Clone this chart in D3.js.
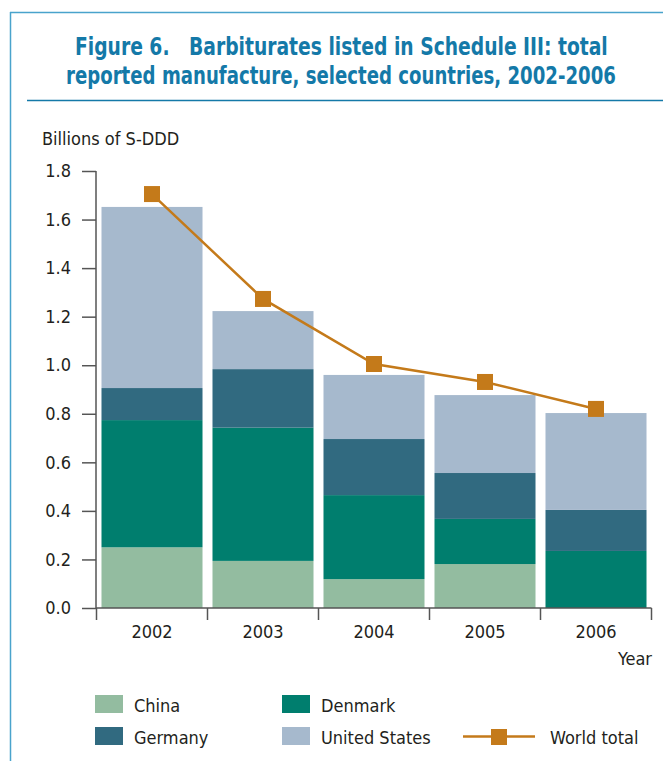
<!DOCTYPE html>
<html>
<head>
<meta charset="utf-8">
<script src="https://cdn.jsdelivr.net/npm/d3@7/dist/d3.min.js"></script>
<style>
  html, body { margin: 0; padding: 0; background: #fff; }
  svg { display: block; }
  text { font-family: "Liberation Sans Narrow", "Arial Narrow", "DejaVu Sans Condensed", "Roboto", sans-serif; }
</style>
</head>
<body>
<svg id="chart" width="663" height="761"></svg>
<script>
// ---- Data ----
const years = ["2002", "2003", "2004", "2005", "2006"];
const china = [0.25, 0.194, 0.119, 0.181, 0];
const denmark = [0.524, 0.549, 0.346, 0.186, 0.235];
const germany = [0.132, 0.241, 0.231, 0.189, 0.169];
const unitedStates = [0.746, 0.239, 0.264, 0.321, 0.399];
const worldTotal = [1.705, 1.273, 1.005, 0.931, 0.82];
const yTicks = [0, 0.2, 0.4, 0.6, 0.8, 1.0, 1.2, 1.4, 1.6, 1.8];
const seriesNames = ["China", "Denmark", "Germany", "United States"];
const seriesColors = ["#93bca0", "#007e6e", "#316a80", "#a6b9cd"];
const worldColor = "#c47a1a";
const titleLines = ["Figure 6.   Barbiturates listed in Schedule III: total",
                    "reported manufacture, selected countries, 2002-2006"];

const svg = d3.select("#chart");
const titleColor = "#1479a8";
const borderColor = "#49a3cc";
const axisColor = "#555";
const textColor = "#231f20";

// Frame
svg.append("line").attr("x1", 10.5).attr("x2", 10.5).attr("y1", 12).attr("y2", 761)
  .attr("stroke", borderColor).attr("stroke-width", 1.5);
svg.append("line").attr("x1", 10).attr("x2", 663).attr("y1", 12.5).attr("y2", 12.5)
  .attr("stroke", borderColor).attr("stroke-width", 1.5);
svg.append("line").attr("x1", 27).attr("x2", 663).attr("y1", 100.5).attr("y2", 100.5)
  .attr("stroke", titleColor).attr("stroke-width", 1.5);

// Title (condensed horizontally to the reference's width)
const titleX = [75, 66], titleW = [533, 550], titleY = [55, 84];
titleLines.forEach((t, i) => {
  const g = svg.append("g");
  const tx = g.append("text").attr("x", 0).attr("y", 0)
    .attr("fill", titleColor).attr("font-weight", "bold").attr("font-size", 24)
    .style("white-space", "pre")
    .text(t);
  const w = tx.node().getComputedTextLength();
  const sx = w > 0 ? titleW[i] / w : 1;
  g.attr("transform", `translate(${titleX[i]},${titleY[i]}) scale(${sx},1)`);
});

// Scales
const x = d3.scaleBand().domain(years).range([96.5, 651.5]).paddingInner(0.09).paddingOuter(0.045);
const y = d3.scaleLinear().domain([0, 1.8]).range([608, 171]);

// Stacked data
const rows = years.map((yr, i) => ({
  year: yr, "China": china[i], "Denmark": denmark[i], "Germany": germany[i], "United States": unitedStates[i]
}));
const stack = d3.stack().keys(seriesNames)(rows);

svg.append("g").selectAll("g").data(stack).join("g")
  .attr("fill", (d, i) => seriesColors[i])
  .selectAll("rect").data(d => d).join("rect")
  .attr("x", d => x(d.data.year))
  .attr("width", x.bandwidth())
  .attr("y", d => y(d[1]))
  .attr("height", d => y(d[0]) - y(d[1]));

// Y axis
const yAxis = d3.axisLeft(y).tickValues(yTicks).tickFormat(d3.format(".1f")).tickSize(14).tickPadding(11);
const yg = svg.append("g").attr("transform", "translate(96,0)").call(yAxis);
yg.select(".domain").attr("stroke", axisColor).attr("stroke-width", 1.5).attr("d", `M0,${y(1.8)}V${y(0)}`);
yg.selectAll(".tick line").attr("stroke", axisColor).attr("stroke-width", 1.5);
yg.selectAll(".tick text").attr("font-size", 18).attr("fill", textColor)
  .style("font-family", '"Liberation Sans Narrow", "Arial Narrow", "DejaVu Sans Condensed", sans-serif');

// X axis: baseline and boundaries between bands
const xr = x.range();
svg.append("line").attr("x1", 96).attr("x2", xr[1]).attr("y1", y(0)).attr("y2", y(0))
  .attr("stroke", axisColor).attr("stroke-width", 1.5);
const bounds = d3.range(years.length + 1).map(i => xr[0] + i * x.step());
svg.append("g").selectAll("line").data(bounds).join("line")
  .attr("x1", d => d).attr("x2", d => d).attr("y1", y(0)).attr("y2", y(0) + 12)
  .attr("stroke", axisColor).attr("stroke-width", 1.5);
svg.append("g").selectAll("text").data(years).join("text")
  .attr("x", d => x(d) + x.bandwidth() / 2).attr("y", 638)
  .attr("text-anchor", "middle").attr("font-size", 18).attr("fill", textColor)
  .text(d => d);

// Axis titles
svg.append("text").attr("x", 652).attr("y", 665).attr("text-anchor", "end")
  .attr("font-size", 18).attr("fill", textColor).text("Year");
svg.append("text").attr("x", 42).attr("y", 145)
  .attr("font-size", 18).attr("fill", textColor).text("Billions of S-DDD");

// World total line
const line = d3.line().x((d, i) => x(years[i]) + x.bandwidth() / 2).y(d => y(d));
svg.append("path").datum(worldTotal).attr("d", line)
  .attr("fill", "none").attr("stroke", worldColor).attr("stroke-width", 2.5);
svg.append("g").selectAll("rect").data(worldTotal).join("rect")
  .attr("x", (d, i) => x(years[i]) + x.bandwidth() / 2 - 8)
  .attr("y", d => y(d) - 8)
  .attr("width", 16).attr("height", 16).attr("fill", worldColor);

// Legend
const legendPos = [[95, 695], [282, 695], [95, 727], [282, 727]];
seriesNames.forEach((name, i) => {
  const [lx, ly] = legendPos[i];
  svg.append("rect").attr("x", lx).attr("y", ly).attr("width", 28).attr("height", 18)
    .attr("fill", seriesColors[i]);
  svg.append("text").attr("x", lx + 39).attr("y", ly + 17)
    .attr("font-size", 18).attr("fill", textColor).text(name);
});
svg.append("line").attr("x1", 463).attr("x2", 535).attr("y1", 736.5).attr("y2", 736.5)
  .attr("stroke", worldColor).attr("stroke-width", 2.5);
svg.append("rect").attr("x", 491).attr("y", 729).attr("width", 16).attr("height", 16).attr("fill", worldColor);
svg.append("text").attr("x", 550).attr("y", 744).attr("font-size", 18).attr("fill", textColor).text("World total");
</script>
</body>
</html>
